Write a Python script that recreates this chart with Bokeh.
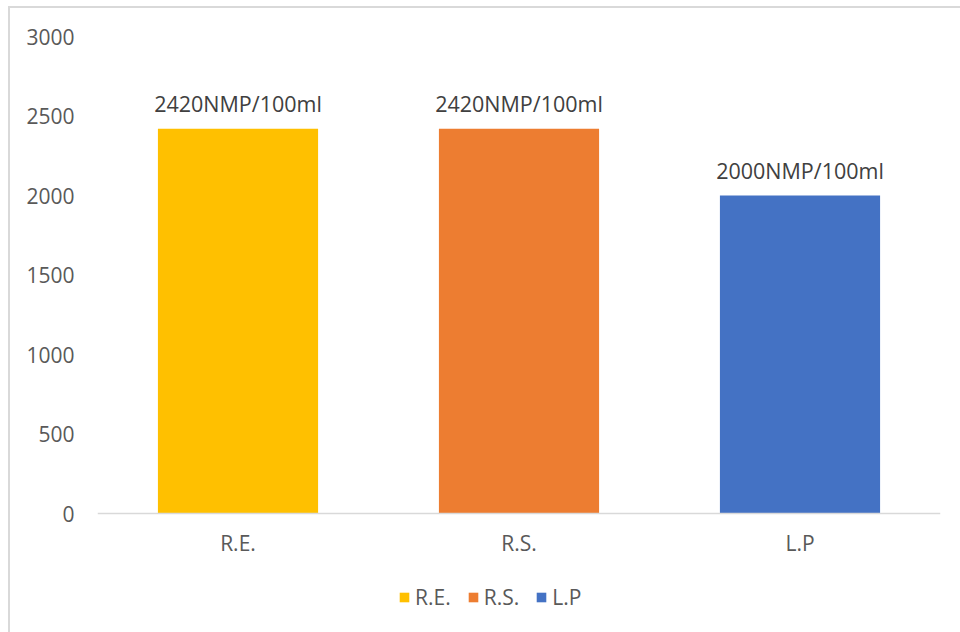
from bokeh.plotting import figure
from bokeh.models import ColumnDataSource, Range1d, FixedTicker, Legend, LegendItem
from bokeh.core.properties import value
from bokeh.embed import file_html
from bokeh.resources import INLINE

categories = ["R.E.", "R.S.", "L.P"]
counts = [2420, 2420, 2000]
unit = "NMP/100ml"
colors = ["#FFC000", "#ED7D31", "#4472C4"]
y_ticks = [0, 500, 1000, 1500, 2000, 2500, 3000]

FONT = "Open Sans"

# plot area: 477 px for 0..3000, plus room under the baseline for labels and legend
AXIS_PX = 477
EXTRA_PX = 130
y_min = -3000 * EXTRA_PX / AXIS_PX

src = ColumnDataSource(dict(
    cat=categories,
    val=counts,
    label=[f"{v}{unit}" for v in counts],
))

p = figure(
    x_range=categories,
    y_range=Range1d(y_min, 3000),
    frame_width=843, frame_height=AXIS_PX + EXTRA_PX,
    output_backend="svg",
    toolbar_location=None,
    min_border_left=87, min_border_right=20,
    min_border_top=28, min_border_bottom=0,
)
p.styles = {
    "margin-left": "8px", "margin-top": "6px",
    "border-left": "2px solid #d9d9d9", "border-top": "2px solid #d9d9d9",
}
p.outline_line_color = None
p.grid.visible = False
p.x_range.range_padding = 0

renderers = []
for c, v, col in zip(categories, counts, colors):
    r = p.vbar(x=[c], top=[v], width=0.57, fill_color=col, line_color=None)
    renderers.append(r)

p.text(x="cat", y="val", text="label", source=src,
       text_align="center", text_baseline="bottom", y_offset=-11,
       text_font=value(FONT), text_font_size="21.5px", text_color="#404040")

# axes
p.yaxis.ticker = FixedTicker(ticks=y_ticks)
p.yaxis.axis_line_color = None
p.yaxis.major_tick_line_color = None
p.yaxis.minor_tick_line_color = None
p.yaxis.major_label_standoff = 17
p.yaxis.major_label_text_font = FONT
p.yaxis.major_label_text_font_size = "21px"
p.yaxis.major_label_text_color = "#595959"

p.xaxis.fixed_location = 0
p.xaxis.axis_line_color = "#d9d9d9"
p.xaxis.axis_line_width = 1.5
p.xaxis.major_tick_line_color = None
p.xaxis.minor_tick_line_color = None
p.xaxis.major_label_standoff = 9
p.xaxis.major_label_text_font = FONT
p.xaxis.major_label_text_font_size = "21px"
p.xaxis.major_label_text_color = "#595959"

# legend under the category labels
legend = Legend(
    items=[LegendItem(label=c, renderers=[r]) for c, r in zip(categories, renderers)],
    orientation="horizontal", location=(301, 32),
    border_line_color=None, background_fill_alpha=0,
    label_text_font=FONT, label_text_font_size="21px", label_text_color="#595959",
    glyph_width=12, glyph_height=12, spacing=16, label_standoff=5,
    margin=0, padding=0,
)
p.add_layout(legend, "center")

open("out.html", "w").write(file_html(p, INLINE))
